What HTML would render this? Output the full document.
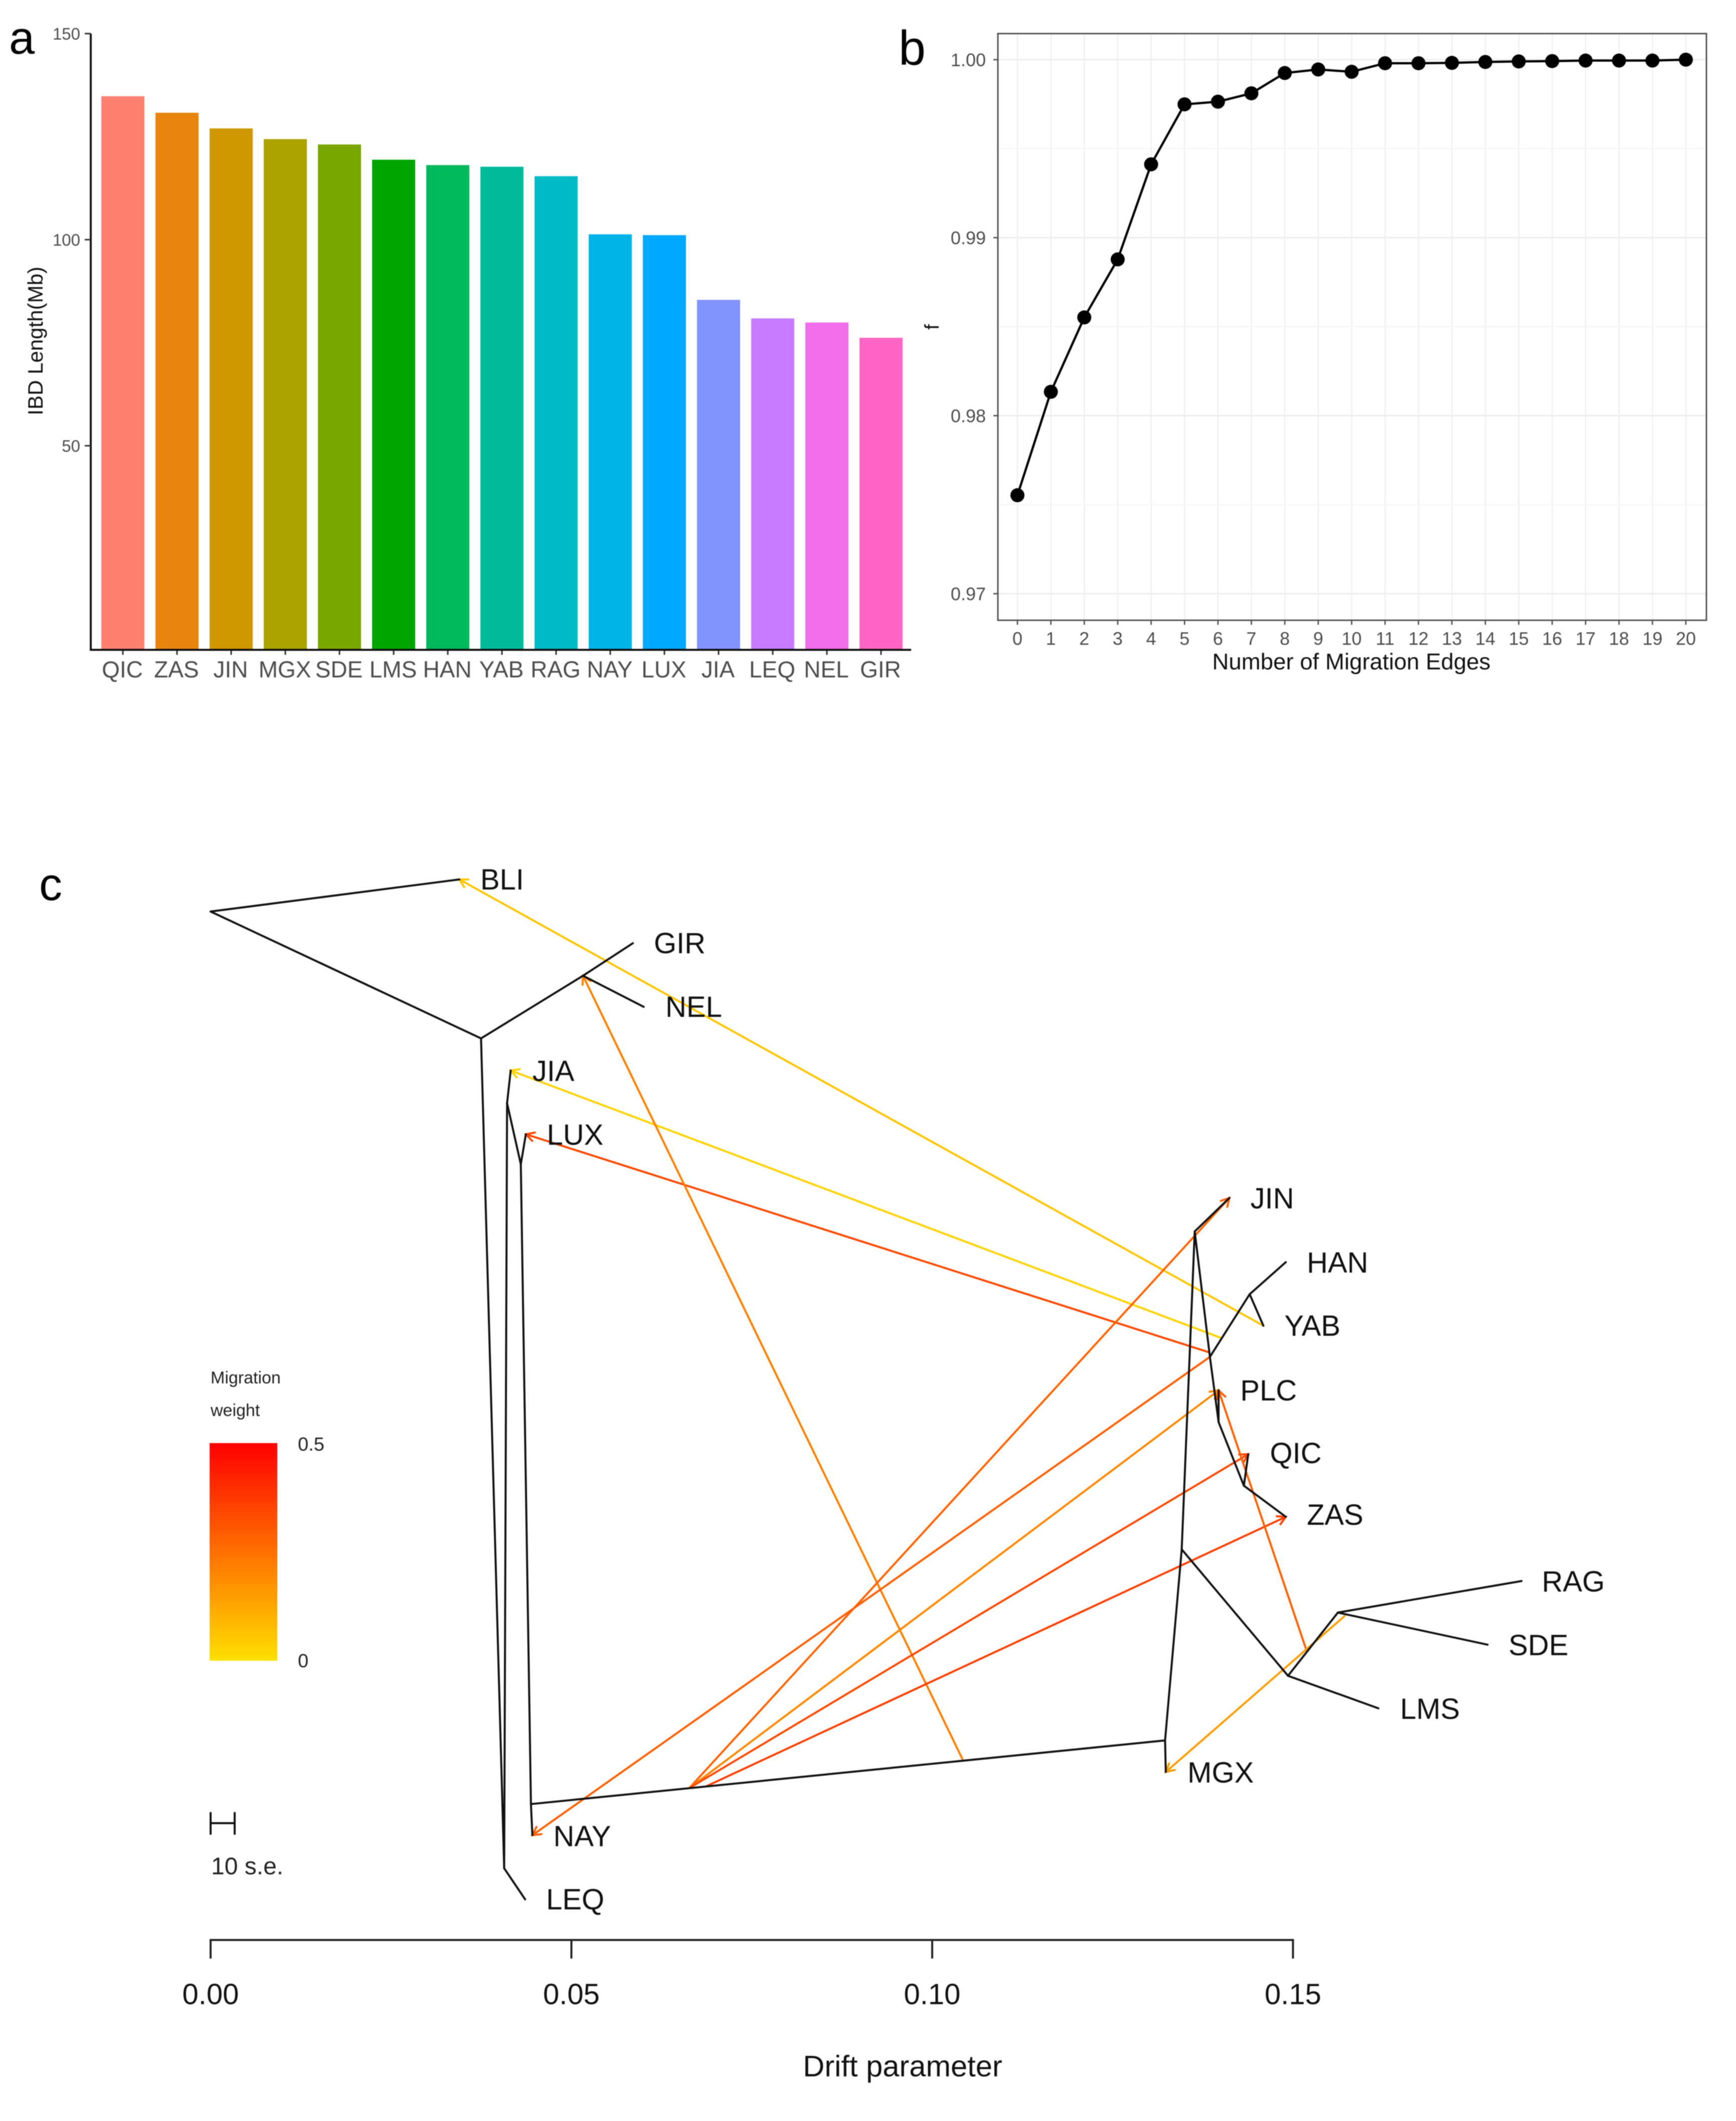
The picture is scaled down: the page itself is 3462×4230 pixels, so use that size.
<!DOCTYPE html>
<html lang="en">
<head>
<meta charset="utf-8">
<title>IBD length, migration edges and TreeMix graph</title>
<style>
html,body{margin:0;padding:0;background:#fff;}
svg{display:block;filter:blur(0.9px);}
text{font-family:"Liberation Sans",sans-serif;}
</style>
</head>
<body>
<svg id="figure" xmlns="http://www.w3.org/2000/svg" width="3462" height="4230" viewBox="0 0 3462 4230">
  <rect x="0" y="0" width="3462" height="4230" fill="#ffffff"/>
  <text x="18" y="107" font-size="92" fill="#000">a</text>
  <text x="1792" y="129" font-size="97" fill="#000">b</text>
  <text x="78" y="1795" font-size="92" fill="#000">c</text>
  <g id="panel-a"></g>
  <g id="panel-b"></g>
  <g id="panel-c"></g>
  <defs>
    <linearGradient id="weightGradient" x1="0" y1="0" x2="0" y2="1">
      <stop offset="0" stop-color="#ff0000"/>
      <stop offset="1" stop-color="#ffdf00"/>
    </linearGradient>
  </defs>
  <g>
    <text x="420" y="2759" font-size="34" fill="#222">Migration</text>
    <text x="420" y="2824" font-size="34" fill="#222">weight</text>
    <rect x="418" y="2878" width="135" height="434" fill="url(#weightGradient)"/>
    <text x="594" y="2893" font-size="38" fill="#222">0.5</text>
    <text x="594" y="3325" font-size="38" fill="#222">0</text>
  </g>
  <g stroke="#111" stroke-width="4" fill="none">
    <line x1="420" y1="3614" x2="420" y2="3659"/>
    <line x1="420" y1="3636" x2="468" y2="3636"/>
    <line x1="468" y1="3614" x2="468" y2="3659"/>
  </g>
  <text x="421" y="3738" font-size="48" fill="#222">10 s.e.</text>
</svg>
<script>
// ---------- Panel a data ----------
const barCategories = ['QIC','ZAS','JIN','MGX','SDE','LMS','HAN','YAB','RAG','NAY','LUX','JIA','LEQ','NEL','GIR'];
const barValues = [134.8,130.8,127,124.4,123.1,119.4,118.1,117.7,115.4,101.3,101.1,85.4,80.9,79.9,76.2];
const barColors = ['#ff8070','#e8850f','#cf9700','#aba300','#7aa600','#00a600','#00b85c','#00ba9c','#00bac5','#00b4e8','#00a9ff','#8494ff','#c77cff','#f06ee8','#ff65c3'];
const barTicks = [50,100,150];

// ---------- Panel b data ----------
const edgeCounts = [0,1,2,3,4,5,6,7,8,9,10,11,12,13,14,15,16,17,18,19,20];
const fValues = [0.97553,0.98134,0.98552,0.98878,0.99412,0.99749,0.99764,0.99811,0.99925,0.99945,0.99932,0.9998,0.9998,0.99982,0.99987,0.9999,0.99992,0.99995,0.99995,0.99995,1.0];
const fTicks = [0.97,0.98,0.99,1.00];
const fMinorTicks = [0.975,0.985,0.995];

// ---------- Panel c data ----------
const nodeNames = ['root','BLI','J1','GIR','NELj','NEL','JIA','JIAj','LUX','LUXj','LEQj','LEQ','NAYj','NAY','MGXj','MGX','LMSb','JINj','JIN','A','B','HAN','YAB','C','PLC','D','QIC','ZAS','E','LMS','F','RAG','SDE'];
const nodeDrift = [0.0000,0.0344,0.0374,0.0584,0.0515,0.0599,0.0415,0.0410,0.0436,0.0429,0.0406,0.0435,0.0443,0.0445,0.1320,0.1321,0.1343,0.1361,0.1409,0.1382,0.1437,0.1487,0.1456,0.1394,0.1394,0.1429,0.1435,0.1487,0.1490,0.1615,0.1559,0.1813,0.1766];
const nodeHeight = [0.0536,0.0245,0.1686,0.0823,0.1118,0.1400,0.1977,0.2273,0.2555,0.2827,0.9209,0.9491,0.8627,0.8909,0.8050,0.8336,0.6318,0.3436,0.3132,0.4573,0.4005,0.3714,0.4291,0.5164,0.4877,0.5741,0.5455,0.6023,0.7464,0.7759,0.6891,0.6605,0.7182];
const edgeParents = ['root','root','J1','NELj','NELj','J1','LEQj','LEQj','JIAj','JIAj','LUXj','LUXj','NAYj','NAYj','MGXj','MGXj','LMSb','JINj','JINj','A','B','B','A','C','C','D','D','LMSb','E','E','F','F'];
const edgeChildren = ['BLI','J1','NELj','GIR','NEL','LEQj','LEQ','JIAj','JIA','LUXj','LUX','NAYj','NAY','MGXj','MGX','LMSb','JINj','JIN','A','B','HAN','YAB','C','PLC','D','QIC','ZAS','E','LMS','F','RAG','SDE'];
const migrationSourceDrift = [0.1456,0.1399,0.1381,0.1040,0.0662,0.1382,0.0662,0.0662,0.0686,0.1515,0.1569];
const migrationSourceHeight = [0.4291,0.4405,0.4532,0.8223,0.8482,0.4573,0.8482,0.8482,0.8464,0.7223,0.6918];
const migrationTargets = ['BLI','JIA','LUX','NELj','JIN','NAY','PLC','QIC','ZAS','PLC','MGX'];
const migrationWeights = [0.06,0.03,0.34,0.22,0.28,0.29,0.2,0.34,0.36,0.29,0.15];
const tipLabels = ['BLI','GIR','NEL','JIA','LUX','JIN','HAN','YAB','PLC','QIC','ZAS','RAG','SDE','LMS','MGX','NAY','LEQ'];
const tipLabelDrift = [0.0373,0.0613,0.0629,0.0445,0.0465,0.1438,0.1516,0.1485,0.1424,0.1465,0.1516,0.1841,0.1795,0.1645,0.1351,0.0474,0.0464];
const tipLabelHeight = [0.0336,0.0914,0.1490,0.2073,0.2650,0.3227,0.3809,0.4382,0.4968,0.5536,0.6095,0.6700,0.7277,0.7855,0.8432,0.9009,0.9582];
const driftTicks = [0,0.05,0.10,0.15];

// ---------- Helpers ----------
const NS = 'http://www.w3.org/2000/svg';
function el(tag, attrs, parent, text) {
  const node = document.createElementNS(NS, tag);
  for (const key in attrs) node.setAttribute(key, attrs[key]);
  if (text !== undefined) node.textContent = text;
  parent.appendChild(node);
  return node;
}

// ---------- Panel a ----------
const panelA = document.getElementById('panel-a');
const aY = v => 1300 - v * 8.22;
const aX = i => 245 + i * 108;
const aBarWidth = 86;
const aBase = 1296;
barCategories.forEach((cat, i) => {
  const bar = el('rect', {x: aX(i) - aBarWidth / 2, y: aY(barValues[i]), width: aBarWidth, height: aBase - aY(barValues[i]), fill: barColors[i]}, panelA);
  
  
  const tick = el('line', {x1: aX(i), x2: aX(i), y1: aBase, y2: aBase + 10, stroke: '#333', 'stroke-width': 3}, panelA);
  
  
  const label = el('text', {x: aX(i) - 1, y: 1351, 'font-size': 46, fill: '#4d4d4d', 'text-anchor': 'middle'}, panelA, cat);
  
  
});
const aAxisY = el('line', {x1: 181, x2: 181, y1: aY(150), y2: aBase + 2, stroke: '#111', 'stroke-width': 4}, panelA);


const aAxisX = el('line', {x1: 179, x2: 1817, y1: aBase, y2: aBase, stroke: '#111', 'stroke-width': 4}, panelA);


barTicks.forEach(t => {
  const tick = el('line', {x1: 169, x2: 181, y1: aY(t), y2: aY(t), stroke: '#333', 'stroke-width': 3}, panelA);
  
  
  const label = el('text', {x: 160, y: aY(t) + 12, 'font-size': 33, fill: '#4d4d4d', 'text-anchor': 'end'}, panelA, String(t));
  
  
});
const aTitle = el('text', {x: 0, y: 0, 'font-size': 42, fill: '#111', 'text-anchor': 'middle', transform: 'translate(85 680) rotate(-90)'}, panelA, 'IBD Length(Mb)');



// ---------- Panel b ----------
const panelB = document.getElementById('panel-b');
const bX = n => 2029 + n * 66.65;
const bY = v => 119 + (1 - v) * 35500;
const bLeft = 1990, bRight = 3403, bTop = 67, bBottom = 1237;
edgeCounts.forEach(n => {
  const grid = el('line', {x1: bX(n), x2: bX(n), y1: bTop, y2: bBottom, stroke: '#f0f0f0', 'stroke-width': 2.5}, panelB);
  
  
  const tick = el('line', {x1: bX(n), x2: bX(n), y1: bBottom, y2: bBottom + 9, stroke: '#444', 'stroke-width': 2.5}, panelB);
  
  
  const label = el('text', {x: bX(n), y: 1286, 'font-size': 36, fill: '#4d4d4d', 'text-anchor': 'middle'}, panelB, String(n));
  
  
});
fMinorTicks.forEach(t => {
  const grid = el('line', {x1: bLeft, x2: bRight, y1: bY(t), y2: bY(t), stroke: '#f4f4f4', 'stroke-width': 2}, panelB);
  
  
});
fTicks.forEach(t => {
  const grid = el('line', {x1: bLeft, x2: bRight, y1: bY(t), y2: bY(t), stroke: '#ededed', 'stroke-width': 3}, panelB);
  
  
  const tick = el('line', {x1: bLeft - 9, x2: bLeft, y1: bY(t), y2: bY(t), stroke: '#444', 'stroke-width': 2.5}, panelB);
  
  
  const label = el('text', {x: 1966, y: bY(t) + 13, 'font-size': 36, fill: '#4d4d4d', 'text-anchor': 'end'}, panelB, t.toFixed(2));
  
  
});
const bFrame = el('rect', {x: bLeft, y: bTop, width: bRight - bLeft, height: bBottom - bTop, fill: 'none', stroke: '#555', 'stroke-width': 3}, panelB);


const bLinePoints = edgeCounts.map((n, i) => bX(n) + ',' + bY(fValues[i])).join(' ');
const bLine = el('polyline', {points: bLinePoints, fill: 'none', stroke: '#000', 'stroke-width': 4.5}, panelB);


edgeCounts.forEach((n, i) => {
  const dot = el('circle', {cx: bX(n), cy: bY(fValues[i]), r: 14, fill: '#000'}, panelB);
  
  
});
const bXTitle = el('text', {x: 2695, y: 1335, 'font-size': 45.6, fill: '#111', 'text-anchor': 'middle'}, panelB, 'Number of Migration Edges');


const bYTitle = el('text', {x: 0, y: 0, 'font-size': 40, fill: '#111', 'text-anchor': 'middle', transform: 'translate(1872 652) rotate(-90)'}, panelB, 'f');



// ---------- Panel c ----------
const panelC = document.getElementById('panel-c');
const cX = d => 420 + d * 14420;
const cY = h => 1700 + h * 2200;
const axisX = d => 420 + d * 14390;
const nodeIndex = name => nodeNames.indexOf(name);
const nodeXY = name => [cX(nodeDrift[nodeIndex(name)]), cY(nodeHeight[nodeIndex(name)])];
const weightColor = w => 'rgb(255,' + Math.round(223 * (1 - w / 0.5)) + ',0)';

migrationTargets.forEach((target, i) => {
  const sx = cX(migrationSourceDrift[i]);
  const sy = cY(migrationSourceHeight[i]);
  const [tx, ty] = nodeXY(target);
  const color = weightColor(migrationWeights[i]);
  const group = el('g', {stroke: color, 'stroke-width': 4, fill: 'none'}, panelC);
  
  
  el('line', {x1: sx, y1: sy, x2: tx, y2: ty}, group);
  const angle = Math.atan2(sy - ty, sx - tx);
  const headLength = 20;
  const spread = 0.5;
  const head = [angle - spread, angle + spread].map(a => (tx + headLength * Math.cos(a)) + ',' + (ty + headLength * Math.sin(a)));
  el('polyline', {points: head[0] + ' ' + tx + ',' + ty + ' ' + head[1]}, group);
});
edgeParents.forEach((parent, i) => {
  const [x1, y1] = nodeXY(parent);
  const [x2, y2] = nodeXY(edgeChildren[i]);
  const branch = el('line', {x1, y1, x2, y2, stroke: '#111', 'stroke-width': 4, 'stroke-linecap': 'round'}, panelC);
  
  
});
tipLabels.forEach((name, i) => {
  const label = el('text', {x: cX(tipLabelDrift[i]), y: cY(tipLabelHeight[i]), 'font-size': 58, fill: '#111'}, panelC, name);
  
  
});
const cAxis = el('line', {x1: axisX(0) - 2, x2: axisX(0.15) + 2, y1: 3869, y2: 3869, stroke: '#222', 'stroke-width': 4}, panelC);


driftTicks.forEach(t => {
  const tick = el('line', {x1: axisX(t), x2: axisX(t), y1: 3869, y2: 3906, stroke: '#222', 'stroke-width': 4}, panelC);
  
  
  const label = el('text', {x: axisX(t), y: 3997, 'font-size': 58, fill: '#111', 'text-anchor': 'middle'}, panelC, t.toFixed(2));
  
  
});
const cTitle = el('text', {x: 1800, y: 4141, 'font-size': 59.6, fill: '#111', 'text-anchor': 'middle'}, panelC, 'Drift parameter');


</script>
</body>
</html>
